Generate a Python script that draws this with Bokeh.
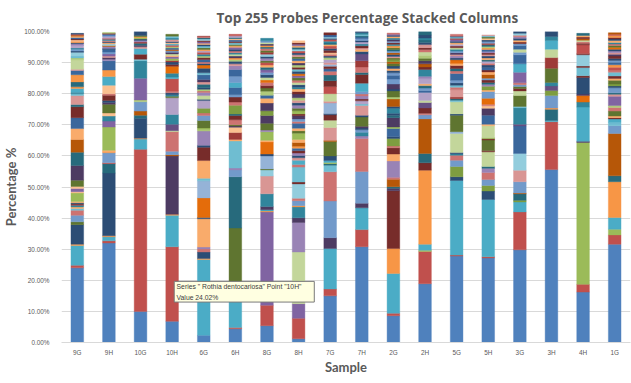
from bokeh.plotting import figure
from bokeh.models import ColumnDataSource, NumeralTickFormatter, FixedTicker, BoxAnnotation, Label
from bokeh.embed import file_html
from bokeh.resources import INLINE

SAMPLES = ["9G", "9H", "10G", "10H", "6G", "6H", "8G", "8H", "7G", "7H",
           "2G", "2H", "5G", "5H", "3G", "3H", "4H", "1G"]

# colour per probe group (Excel-like cycle)
PALETTE = ["#4F81BD", "#C0504D", "#9BBB59", "#8064A2", "#4BACC6", "#F79646",
           "#2C4D75", "#772C2A", "#5F7530", "#4D3B62", "#276A7C", "#B65708",
           "#729ACA", "#CD7371", "#AFC97A", "#9983B5", "#6FBDD1", "#F9AB6B",
           "#3A679C", "#9E3B38", "#7E9D40", "#664F82", "#31859C", "#E46C0A",
           "#95B3D7", "#D99694", "#C3D69B", "#B3A2C7", "#93CDDD", "#FAC090"]

# percentage of each probe, bottom to top, and its probe group
PCT_9G = [24.0, 0.8, 6.4, 0.4, 6.3, 0.9, 2.1, 1.6, 0.6, 0.5, 0.5, 0.4, 0.4, 0.4, 2.8, 0.4, 1.0, 0.7, 2.0, 4.7,
          4.3, 4.1, 3.5, 3.5, 3.5, 0.7, 2.9, 0.6, 0.5, 1.2, 0.5, 1.6, 2.3, 1.4, 0.4, 3.0, 0.6, 0.6, 1.2, 0.4,
          0.6, 0.4, 0.8, 0.6, 0.3, 0.5, 0.4, 0.3, 0.5, 0.4, 0.3, 0.3, 0.3]
GRP_9G = [0, 1, 4, 5, 6, 8, 12, 13, 16, 17, 22, 19, 6, 17, 2, 29, 3, 29, 8, 9,
          10, 11, 17, 18, 7, 10, 25, 16, 22, 4, 5, 10, 5, 18, 25, 26, 14, 16, 28, 6,
          12, 22, 27, 15, 6, 5, 29, 7, 18, 17, 11, 1, 6]

PCT_9H = [32.0, 0.7, 1.3, 0.3, 20.2, 3.0, 0.3, 3.2, 0.5, 0.3, 7.5, 1.9, 1.6, 1.0, 2.8, 0.6, 0.6, 1.7, 0.5, 2.7,
          2.8, 2.1, 3.0, 0.5, 0.5, 0.5, 0.7, 0.6, 0.8, 0.4, 0.6, 0.3, 0.5, 0.4, 0.3, 0.4, 0.4, 0.3, 0.7, 0.6,
          0.3, 0.3]
GRP_9H = [0, 1, 4, 5, 6, 10, 1, 12, 5, 17, 2, 3, 22, 29, 8, 9, 6, 7, 13, 29,
          4, 5, 18, 15, 9, 25, 3, 12, 18, 6, 15, 11, 28, 17, 6, 13, 22, 1, 27, 0,
          7, 14]

PCT_10G = [10.0, 52.1, 3.3, 0.3, 6.4, 1.0, 1.3, 3.0, 0.6, 7.0, 5.6, 0.5, 1.6, 1.8, 0.6, 0.5, 0.6, 0.4, 0.5, 0.5,
           0.4, 0.3, 0.4, 1.3]
GRP_10G = [0, 1, 4, 5, 6, 10, 11, 12, 14, 3, 22, 16, 7, 4, 25, 9, 10, 19, 15, 6,
           2, 5, 8, 6]

PCT_10H = [6.8, 24.0, 10.1, 0.3, 18.8, 0.4, 1.1, 6.3, 0.3, 2.1, 3.1, 5.4, 0.5, 0.5, 0.6, 0.6, 3.9, 0.6, 1.2, 2.2,
           0.6, 0.8, 0.5, 0.6, 0.6, 0.4, 0.5, 0.5, 0.5, 0.4, 0.5, 0.4, 0.5, 0.4, 0.4, 0.4, 0.6, 0.5, 0.6, 0.6]
GRP_10H = [0, 1, 4, 5, 9, 11, 12, 13, 26, 21, 22, 27, 8, 22, 6, 13, 1, 4, 22, 23,
           7, 6, 19, 2, 3, 17, 26, 9, 12, 11, 18, 14, 1, 4, 29, 6, 25, 22, 16, 8]

PCT_6G = [2.3, 24.4, 0.3, 2.1, 1.0, 0.6, 9.1, 0.4, 6.3, 5.5, 0.8, 5.7, 4.3, 0.6, 4.6, 0.4, 0.6, 2.4, 1.6, 0.8,
          1.5, 2.5, 0.4, 1.2, 1.0, 0.5, 0.5, 0.6, 1.0, 0.8, 0.8, 1.5, 0.6, 1.5, 1.0, 0.5, 0.5, 0.8, 0.6, 0.5,
          0.6, 0.6, 0.5, 0.4, 0.6, 0.5, 0.5, 0.4, 0.5, 0.4, 0.5, 0.4, 0.3, 0.2]
GRP_6G = [0, 4, 5, 6, 13, 15, 17, 6, 23, 24, 16, 17, 7, 6, 15, 14, 2, 8, 12, 13,
          20, 27, 6, 26, 15, 13, 14, 6, 10, 25, 9, 18, 16, 6, 23, 6, 13, 18, 7, 14,
          22, 1, 27, 5, 8, 16, 6, 17, 3, 7, 28, 10, 13, 19]

PCT_6H = [4.4, 0.4, 11.2, 20.8, 16.5, 2.2, 0.6, 8.7, 0.5, 2.2, 1.7, 0.4, 0.4, 1.6, 1.4, 0.5, 2.8, 1.0, 1.6, 0.8,
          2.3, 1.6, 2.0, 2.2, 1.2, 0.6, 0.8, 0.6, 0.5, 0.6, 0.6, 0.5, 0.5, 0.6, 0.6, 0.5, 0.4, 0.6, 0.4, 0.5,
          0.4, 0.4, 0.5, 0.5]
GRP_6H = [0, 1, 4, 8, 10, 12, 15, 16, 17, 19, 29, 9, 8, 13, 7, 10, 20, 13, 7, 12,
          18, 4, 12, 18, 15, 25, 6, 14, 5, 9, 26, 22, 13, 6, 3, 17, 8, 16, 7, 18,
          29, 10, 27, 1]

PCT_8G = [5.4, 6.6, 30.0, 0.3, 0.4, 1.0, 4.1, 5.7, 2.0, 0.3, 4.2, 0.6, 3.9, 0.5, 2.8, 0.5, 2.2, 2.5, 1.5, 2.5,
          1.5, 1.0, 1.3, 1.0, 0.8, 1.0, 0.8, 0.8, 0.9, 0.7, 0.9, 0.8, 0.7, 0.8, 0.6, 0.8, 0.6, 0.7, 0.6, 0.6,
          0.6, 0.5, 0.5, 0.5, 0.5, 0.5, 0.8]
GRP_8G = [0, 1, 3, 5, 4, 9, 22, 25, 28, 8, 24, 6, 23, 17, 2, 15, 8, 9, 20, 9,
          17, 18, 14, 8, 7, 13, 23, 26, 6, 12, 3, 10, 17, 1, 8, 15, 6, 28, 19, 8,
          13, 10, 5, 9, 26, 12, 22]

PCT_8H = [1.2, 6.6, 4.7, 16.6, 9.5, 1.5, 3.5, 0.4, 1.6, 0.8, 4.6, 0.6, 4.8, 0.8, 1.4, 0.8, 0.7, 0.8, 0.8, 0.8,
          0.6, 1.2, 1.0, 2.0, 0.8, 0.8, 1.6, 0.6, 0.8, 1.0, 0.6, 1.0, 0.8, 1.0, 0.8, 0.8, 0.8, 1.2, 0.8, 0.8,
          0.6, 0.8, 0.7, 0.7, 0.8, 0.7, 0.6, 0.8, 0.7, 0.6, 0.7, 0.7, 0.7, 0.7, 0.6, 0.6, 0.6, 0.6, 0.6, 0.6,
          0.5, 0.5, 0.5, 0.6]
GRP_8H = [0, 1, 3, 26, 15, 9, 22, 5, 12, 13, 28, 7, 16, 13, 4, 25, 6, 15, 7, 18,
          5, 11, 17, 2, 8, 17, 18, 13, 12, 9, 7, 2, 8, 15, 6, 25, 14, 9, 7, 17,
          22, 6, 26, 13, 8, 3, 23, 6, 16, 7, 14, 9, 17, 18, 8, 25, 6, 1, 28, 10,
          17, 3, 7, 29]

PCT_7G = [15.0, 2.2, 13.0, 3.5, 11.8, 9.4, 2.1, 0.5, 0.4, 0.6, 1.5, 4.6, 0.4, 4.1, 2.4, 1.7, 0.4, 3.4, 0.6, 2.4,
          2.3, 1.9, 1.8, 1.2, 0.8, 0.8, 0.6, 0.6, 1.0, 0.6, 0.5, 0.6, 0.5, 0.8, 0.5, 0.8, 0.5, 0.5, 0.6, 0.5,
          0.4, 0.4, 0.7, 0.7]
GRP_7G = [0, 1, 4, 9, 12, 13, 16, 10, 2, 4, 6, 8, 11, 25, 26, 7, 6, 24, 25, 26,
          1, 7, 10, 13, 18, 7, 24, 25, 27, 14, 6, 13, 29, 7, 6, 1, 17, 10, 22, 1,
          6, 28, 18, 7]

PCT_7H = [30.8, 5.5, 7.0, 1.5, 10.2, 10.6, 0.8, 1.2, 0.8, 0.6, 0.5, 3.0, 0.6, 3.1, 0.5, 1.0, 0.6, 1.0, 0.6, 0.8,
          2.7, 2.8, 0.6, 1.8, 2.0, 2.2, 0.8, 0.6, 0.5, 0.7, 0.6, 0.6, 0.5, 0.6, 0.5, 0.4, 0.4, 0.6, 0.4]
GRP_7H = [0, 1, 4, 9, 12, 13, 15, 22, 12, 6, 9, 8, 6, 25, 16, 27, 7, 15, 13, 12,
          4, 7, 10, 13, 19, 21, 6, 17, 25, 7, 22, 27, 6, 12, 18, 10, 16, 22, 6]

PCT_2G = [8.6, 0.8, 12.8, 8.0, 18.6, 0.8, 0.5, 2.4, 0.6, 5.3, 2.2, 2.0, 0.6, 2.4, 0.6, 2.6, 0.5, 3.0, 0.8, 0.6,
          1.6, 0.6, 2.4, 0.6, 2.0, 0.6, 1.6, 1.6, 1.2, 0.8, 0.8, 0.6, 0.8, 0.8, 0.6, 0.6, 0.6, 0.5, 0.6, 0.6,
          0.5, 0.5, 0.6, 0.6, 0.5, 0.5, 0.5, 0.5, 0.5, 0.5, 0.4, 0.3, 0.4]
GRP_2G = [0, 1, 4, 5, 7, 9, 10, 11, 13, 15, 17, 7, 13, 20, 6, 18, 2, 9, 10, 6,
          22, 6, 11, 14, 8, 6, 9, 12, 18, 12, 6, 17, 6, 8, 11, 20, 8, 25, 6, 11,
          12, 10, 8, 5, 22, 7, 12, 9, 22, 17, 6, 3, 13]

PCT_2H = [18.9, 10.4, 0.4, 1.9, 23.8, 2.4, 3.0, 11.1, 1.3, 0.5, 1.7, 1.8, 0.6, 2.6, 0.6, 0.8, 0.8, 0.6, 1.6, 0.8,
          2.2, 0.8, 1.0, 1.0, 0.8, 1.0, 1.0, 0.8, 0.6, 1.0, 0.7, 0.8, 0.6, 1.0, 1.1]
GRP_2H = [0, 1, 2, 4, 5, 7, 10, 11, 12, 13, 7, 21, 26, 27, 18, 12, 10, 17, 27, 15,
          22, 7, 11, 9, 8, 14, 26, 13, 7, 25, 6, 10, 22, 6, 10]

PCT_5G = [27.8, 0.3, 24.0, 1.2, 3.3, 2.0, 1.6, 0.5, 0.4, 6.1, 0.6, 5.3, 0.4, 3.9, 0.5, 0.5, 0.5, 2.4, 0.8, 0.6,
          0.8, 0.8, 2.2, 0.8, 0.8, 1.0, 0.6, 1.2, 0.6, 0.6, 0.5, 0.6, 0.5, 0.6, 0.5, 0.5, 0.6, 0.5, 0.5, 0.5,
          0.4, 0.4, 0.3, 0.6]
GRP_5G = [0, 1, 4, 6, 20, 12, 13, 22, 6, 26, 24, 8, 6, 26, 16, 10, 19, 25, 13, 16,
          6, 12, 18, 13, 10, 7, 17, 23, 6, 15, 25, 9, 12, 22, 26, 7, 27, 17, 6, 3,
          19, 16, 6, 13]

PCT_5H = [27.2, 0.4, 18.4, 2.7, 1.8, 1.9, 2.3, 1.3, 0.6, 4.7, 0.4, 3.4, 0.4, 0.4, 3.8, 0.5, 2.9, 2.2, 0.8, 0.5,
          1.9, 2.2, 0.5, 1.2, 0.6, 0.6, 0.8, 0.6, 1.2, 0.8, 0.6, 0.8, 0.8, 0.6, 0.6, 0.5, 0.6, 0.6, 0.5, 0.5,
          0.5, 0.6, 0.5, 0.5, 0.5, 0.5, 0.6, 0.5, 0.5, 0.4, 0.4, 0.3]
GRP_5H = [0, 1, 4, 6, 20, 12, 13, 15, 10, 26, 7, 8, 7, 2, 26, 17, 18, 9, 29, 13,
          23, 12, 17, 20, 15, 10, 7, 12, 11, 17, 7, 18, 6, 13, 27, 10, 17, 6, 25, 7,
          15, 18, 5, 14, 10, 19, 12, 6, 29, 8, 16, 25]

PCT_3G = [29.8, 12.2, 3.2, 0.5, 2.1, 0.3, 3.6, 3.7, 5.4, 8.8, 0.6, 5.3, 0.4, 3.5, 1.5, 0.8, 0.6, 0.6, 0.6, 3.4,
          2.7, 2.9, 0.8, 1.0, 1.2, 0.6, 0.5, 0.6, 0.6, 0.5, 0.5, 0.6, 0.6]
GRP_3G = [0, 1, 4, 20, 10, 11, 12, 25, 28, 18, 21, 22, 16, 8, 26, 7, 8, 12, 13, 3,
          4, 18, 12, 26, 18, 12, 7, 17, 6, 15, 13, 28, 6]

PCT_3H = [55.6, 15.4, 0.4, 3.6, 0.4, 4.0, 1.6, 1.5, 1.1, 4.6, 3.4, 2.7, 2.8, 1.3, 1.6]
GRP_3H = [0, 1, 4, 10, 5, 12, 20, 21, 22, 8, 19, 26, 4, 22, 6]

PCT_4H = [16.2, 2.5, 45.6, 0.4, 11.0, 1.6, 2.1, 0.5, 5.3, 0.6, 2.6, 0.5, 3.6, 0.4, 2.8, 0.5, 0.5, 0.5, 0.5, 0.5,
          0.5, 0.7]
GRP_4H = [0, 1, 2, 9, 4, 22, 23, 9, 6, 7, 16, 7, 28, 7, 1, 7, 13, 26, 11, 7,
          17, 10]

PCT_1G = [31.6, 3.0, 1.8, 3.8, 11.5, 1.9, 13.6, 2.5, 1.0, 1.2, 0.4, 0.5, 1.6, 1.2, 0.6, 3.0, 0.6, 0.5, 1.6, 0.6,
          0.6, 1.2, 0.6, 0.8, 1.2, 0.6, 1.0, 0.8, 0.8, 0.6, 0.6, 0.8, 0.6, 0.5, 0.5, 0.6, 0.6, 0.6, 0.5, 0.5,
          0.6, 0.5, 0.5, 0.6, 0.4, 0.5]
GRP_1G = [0, 1, 2, 4, 5, 10, 11, 12, 16, 4, 7, 17, 8, 13, 14, 3, 25, 10, 12, 6,
          20, 8, 17, 7, 16, 13, 1, 5, 18, 12, 6, 7, 9, 25, 15, 6, 23, 8, 13, 22,
          17, 6, 7, 5, 1, 11]

Y_TICKS = [0.0, 0.1, 0.2, 0.3, 0.4, 0.5, 0.6, 0.7, 0.8, 0.9, 1.0]

TIP_SERIES = "Rothia dentocariosa"
TIP_POINT = "10H"
TIP_VALUE = "24.02%"

COLUMNS = {
    "9G": (PCT_9G, GRP_9G), "9H": (PCT_9H, GRP_9H), "10G": (PCT_10G, GRP_10G),
    "10H": (PCT_10H, GRP_10H), "6G": (PCT_6G, GRP_6G), "6H": (PCT_6H, GRP_6H),
    "8G": (PCT_8G, GRP_8G), "8H": (PCT_8H, GRP_8H), "7G": (PCT_7G, GRP_7G),
    "7H": (PCT_7H, GRP_7H), "2G": (PCT_2G, GRP_2G), "2H": (PCT_2H, GRP_2H),
    "5G": (PCT_5G, GRP_5G), "5H": (PCT_5H, GRP_5H), "3G": (PCT_3G, GRP_3G),
    "3H": (PCT_3H, GRP_3H), "4H": (PCT_4H, GRP_4H), "1G": (PCT_1G, GRP_1G),
}

xs, bottoms, tops, colors = [], [], [], []
for i, s in enumerate(SAMPLES):
    pct, grp = COLUMNS[s]
    acc = 0.0
    for v, g in zip(pct, grp):
        xs.append(i)
        bottoms.append(acc / 100.0)
        acc += v
        tops.append(acc / 100.0)
        colors.append(PALETTE[g % len(PALETTE)])

src = ColumnDataSource(dict(x=xs, bottom=bottoms, top=tops, color=colors))

p = figure(frame_width=569, frame_height=311,
           x_range=(-0.5, len(SAMPLES) - 0.5), y_range=(0, 1),
           output_backend="svg", toolbar_location=None,
           min_border_left=52, min_border_right=2, min_border_top=25, min_border_bottom=26)

p.vbar(x="x", bottom="bottom", top="top", width=0.40, source=src,
       fill_color="color", line_color="color", line_width=0.4)

p.title.text = "Top 255 Probes Percentage Stacked Columns"
p.title.align = "left"
p.title.offset = 155
p.title.standoff = 10
p.title.text_font = "Open Sans"
p.title.text_font_size = "13.6px"
p.title.text_font_style = "bold"
p.title.text_color = "#595959"

p.outline_line_color = None
p.background_fill_color = "white"
p.xgrid.grid_line_color = None
p.ygrid.grid_line_color = "#D9D9D9"
p.ygrid.grid_line_width = 1

p.yaxis.ticker = FixedTicker(ticks=Y_TICKS)
p.yaxis.formatter = NumeralTickFormatter(format="0.00%")
p.yaxis.axis_line_color = None
p.yaxis.major_tick_line_color = None
p.yaxis.minor_tick_line_color = None
p.yaxis.major_label_text_font_size = "6.4px"
p.yaxis.major_label_text_color = "#595959"
p.yaxis.major_label_text_font = "Liberation Sans"
p.yaxis.major_label_standoff = 6
p.yaxis.axis_label = "Percentage %"
p.yaxis.axis_label_text_font = "Lato"
p.yaxis.axis_label_text_font_size = "13px"
p.yaxis.axis_label_text_font_style = "bold"
p.yaxis.axis_label_text_color = "#595959"
p.yaxis.axis_label_standoff = 2

p.xaxis.ticker = FixedTicker(ticks=list(range(len(SAMPLES))))
p.xaxis.major_label_overrides = {i: s for i, s in enumerate(SAMPLES)}
p.xaxis.axis_line_color = "#D9D9D9"
p.xaxis.major_tick_line_color = None
p.xaxis.minor_tick_line_color = None
p.xaxis.major_label_text_font_size = "6.4px"
p.xaxis.major_label_text_color = "#595959"
p.xaxis.major_label_text_font = "Liberation Sans"
p.xaxis.major_label_standoff = 0
p.xaxis.axis_label = "Sample"
p.xaxis.axis_label_text_font = "Lato"
p.xaxis.axis_label_text_font_size = "13px"
p.xaxis.axis_label_text_font_style = "bold"
p.xaxis.axis_label_text_color = "#595959"
p.xaxis.axis_label_standoff = 0

# hover tooltip captured in the picture
tip_x = SAMPLES.index(TIP_POINT)
p.add_layout(BoxAnnotation(left=tip_x + 0.066, right=tip_x + 4.497, bottom=0.130, top=0.1965,
                           fill_color="#FFFFE1", fill_alpha=1.0, line_color="#7A7A7A",
                           line_width=1, line_alpha=1.0))
p.add_layout(Label(x=tip_x + 0.14, y=0.1785,
                   text='Series " %s" Point "%s"' % (TIP_SERIES, TIP_POINT),
                   text_font="Liberation Sans", text_font_size="6.8px",
                   text_baseline="middle", text_color="#3C3C3C"))
p.add_layout(Label(x=tip_x + 0.14, y=0.144, text="Value %s" % TIP_VALUE,
                   text_font="Liberation Sans", text_font_size="6.8px",
                   text_baseline="middle", text_color="#3C3C3C"))

open("out.html", "w").write(file_html(p, INLINE))
